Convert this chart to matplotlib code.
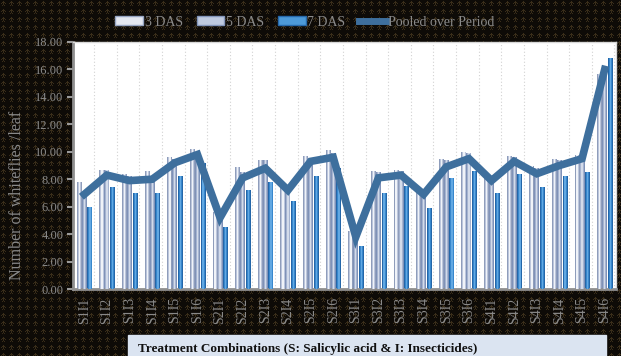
import numpy as np
import matplotlib
matplotlib.use("Agg")
import matplotlib.pyplot as plt
from matplotlib.patches import Patch
from matplotlib.lines import Line2D

# treatment combinations
treatments = ["S1I1", "S1I2", "S1I3", "S1I4", "S1I5", "S1I6",
              "S2I1", "S2I2", "S2I3", "S2I4", "S2I5", "S2I6",
              "S3I1", "S3I2", "S3I3", "S3I4", "S3I5", "S3I6",
              "S4I1", "S4I2", "S4I3", "S4I4", "S4I5", "S4I6"]

# whiteflies per leaf
das3 = [7.8, 8.7, 8.4, 8.6, 9.6, 10.2, 5.6, 8.9, 9.4, 7.7, 9.7, 10.1,
        4.2, 8.6, 8.7, 7.3, 9.5, 10.0, 8.4, 9.7, 9.0, 9.5, 9.8, 15.7]
das5 = [6.9, 8.7, 8.2, 8.1, 9.5, 10.0, 5.5, 8.5, 9.4, 7.5, 9.5, 9.9,
        4.1, 8.5, 8.6, 7.3, 9.4, 9.9, 8.3, 9.6, 8.8, 9.4, 9.7, 15.5]
das7 = [6.0, 7.4, 7.0, 7.0, 8.2, 9.2, 4.5, 7.2, 7.8, 6.4, 8.2, 8.8,
        3.1, 7.0, 7.5, 5.9, 8.1, 8.6, 7.0, 8.4, 7.4, 8.2, 8.5, 16.8]
pooled = [6.9, 8.3, 7.9, 8.0, 9.2, 9.8, 5.2, 8.1, 8.8, 7.2, 9.3, 9.6,
          3.8, 8.1, 8.3, 6.9, 8.9, 9.5, 7.9, 9.3, 8.4, 9.0, 9.5, 16.0]

yticks = np.arange(0, 19, 2)

series_styles = [
    # (values, offset, edge, mid, highlight)
    (das3, -0.22, "#8f9dbb", "#bcc6dc", "#f0f3f8"),
    (das5, 0.0, "#7f92b8", "#a6b4d0", "#d3dbea"),
    (das7, 0.25, "#2466a8", "#3887cc", "#62a8e2"),
]
grey_txt = "#8a8a8a"
line_col = "#3e6f9d"

fig = plt.figure(figsize=(6.21, 3.56), dpi=100)
fig.patch.set_facecolor("#0e0b07")

# tiled dark backdrop
tile = np.zeros((8, 8, 3))
tile[:] = np.array([14, 11, 7]) / 255
motif = np.array([58, 46, 26]) / 255
for (r, c) in [(1, 3), (2, 2), (2, 3), (2, 4), (3, 1), (3, 3), (3, 5), (4, 3), (5, 2), (5, 4)]:
    tile[r, c] = motif
bg = np.tile(tile, (356 // 8 + 1, 621 // 8 + 1, 1))[:356, :621]
fig.figimage(bg, xo=0, yo=0, zorder=-10)

ax = fig.add_axes([73 / 621, 67 / 356, 543 / 621, 247 / 356])
ax.set_zorder(5)
ax.set_facecolor("white")
x = np.arange(len(treatments))

# faint dotted shadows behind the groups
for xi in x:
    ax.axvline(xi + 0.43, color="#d2d2d2", lw=0.8, ls=(0, (1, 2)), zorder=1)

# bars with a light centre stripe
for vals, off, edge, mid, hi in series_styles:
    ax.bar(x + off, vals, 0.22, color=edge, zorder=2)
    ax.bar(x + off, vals, 0.14, color=mid, zorder=3)
    ax.bar(x + off, vals, 0.06, color=hi, zorder=4)

ax.plot(x, pooled, color=line_col, lw=5.5, solid_joinstyle="miter", zorder=5)

ax.set_xlim(-0.5, len(treatments) - 0.5)
ax.set_ylim(0, 18)
ax.set_yticks(yticks)
ax.set_yticklabels([f"{v:.2f}" for v in yticks], family="Liberation Serif",
                   fontsize=9, color=grey_txt)
ax.set_xticks(x)
ax.set_xticklabels(treatments, rotation=90, family="Liberation Serif",
                   fontsize=10, color=grey_txt)
ax.tick_params(axis="y", length=4, width=1.5, color="#9a9a9a", pad=3)
ax.tick_params(axis="x", length=0, pad=6)
for side in ["left", "bottom"]:
    ax.spines[side].set_color("#8f8f8f")
    ax.spines[side].set_linewidth(2)
for side in ["top", "right"]:
    ax.spines[side].set_color("#d8d8d8")
    ax.spines[side].set_linewidth(1)

fig.text(17 / 621, 1 - 195 / 356, "Number of whiteflies /leaf", rotation=90,
         ha="center", va="center", family="Liberation Serif", fontsize=11.5,
         color=grey_txt)

# axis title box
fig.patches.append(plt.Rectangle((128 / 621, 0), 478 / 621, 21 / 356,
                                 transform=fig.transFigure, color="#dbe4f1",
                                 zorder=1))
fig.text(138 / 621, 1 - 349 / 356,
         "Treatment Combinations (S: Salicylic acid & I: Insecticides)",
         ha="left", va="center", family="Liberation Serif", fontsize=9.5,
         fontweight="bold", color="#111111", zorder=2)

handles = [
    Patch(facecolor="#e4e8f1", edgecolor="#97a5c2", label="3 DAS"),
    Patch(facecolor="#c0cbe0", edgecolor="#8496ba", label="5 DAS"),
    Patch(facecolor="#4d9ad8", edgecolor="#2668aa", label="7 DAS"),
    Line2D([0], [0], color=line_col, lw=5, label="Pooled over Period"),
]
leg = fig.legend(handles=handles, loc="center", ncol=4,
                 bbox_to_anchor=(305 / 621, 1 - 22 / 356), frameon=False,
                 prop={"family": "Liberation Serif", "size": 10},
                 handlelength=2.0, handleheight=0.6, handletextpad=0.1,
                 columnspacing=1.0)
for t in leg.get_texts():
    t.set_color(grey_txt)

fig.savefig("out.png", dpi=100, facecolor=fig.get_facecolor())
